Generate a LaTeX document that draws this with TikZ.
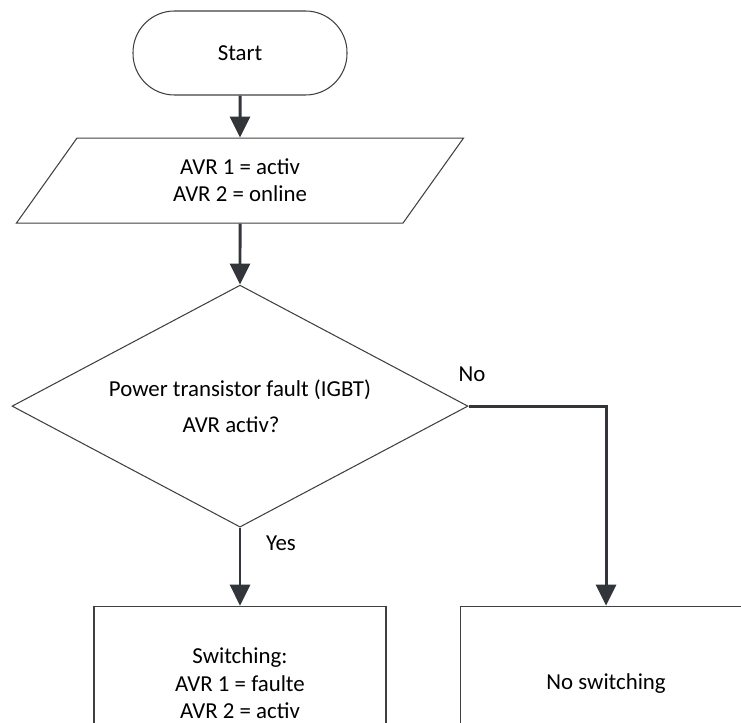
\documentclass[tikz,border=0pt]{standalone}
\usepackage{fontspec}
\setmainfont{Carlito}
\usetikzlibrary{positioning,shapes.geometric,arrows.meta}
\definecolor{linegray}{RGB}{64,64,64}
\definecolor{flowgray}{RGB}{50,54,58}
\tikzstyle{startstop} = [rectangle,
                    rounded corners=0.83cm,
                    minimum width=4.28cm,
                    minimum height=1.68cm,
                    text centered,
                    draw=linegray,
                    line width=0.6pt]
\tikzstyle{inout} = [trapezium,
                    trapezium left angle=63.7,
                    trapezium right angle=116.3,
                    trapezium stretches=true,
                    minimum width=8.95cm,
                    minimum height=1.7cm,
                    align=center,
                    draw=linegray,
                    line width=0.6pt]
\tikzstyle{decision} = [diamond,
                    shape aspect=1.88,
                    minimum width=9.12cm,
                    minimum height=4.84cm,
                    inner sep=0pt,
                    align=center,
                    draw=linegray,
                    line width=0.6pt]
\tikzstyle{process} = [rectangle,
                    minimum width=5.84cm,
                    minimum height=3.08cm,
                    align=center,
                    draw=linegray,
                    line width=0.6pt]
\tikzstyle{flow} = [draw=flowgray,
                    line width=1.7pt,
                    -{Triangle[length=0.42cm,width=0.4cm]}]
\begin{document}
\begin{tikzpicture}[node distance=1cm, font=\fontsize{13pt}{15.4pt}\selectfont]
\clip (0,0) rectangle (14.82,-14.44);
\node (start) [startstop] at (4.8,-1.06) {Start};
\node (input) [inout, below=0.84cm of start] {AVR 1 = activ\\AVR 2 = online};
\node (fault) [decision, below=1.22cm of input] {Power transistor fault (IGBT)\\[5pt]AVR activ?\hspace*{0.36cm}};
\node (switch) [process, below=1.56cm of fault] {Switching:\\AVR 1 = faulte\\AVR 2 = activ};
\node (noswitch) [process, right=1.46cm of switch] {No switching};
\node (no) at (9.44,-7.48) {No};
\node (yes) at (5.62,-10.86) {Yes};
% connectors
\draw [flow] (start) -- (input);
\draw [flow] (input) -- (fault);
\draw [flow] (fault) -- (switch);
\draw [flow] (fault.east) -| (noswitch.north);
\end{tikzpicture}
\end{document}
